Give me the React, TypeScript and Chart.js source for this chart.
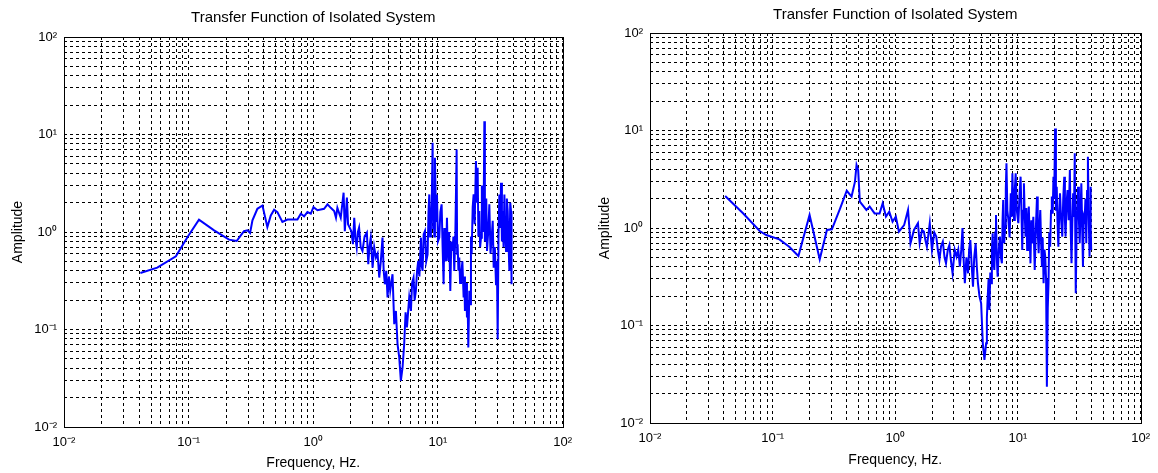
import React, { useEffect, useRef } from 'react';
import { Chart, registerables } from 'chart.js';

Chart.register(...registerables);

// ---------- text ----------
const TITLE = 'Transfer Function of Isolated System';
const X_LABEL = 'Frequency, Hz.';
const Y_LABEL = 'Amplitude';

// ---------- axis ticks ----------
const DECADE_VALUES = [0.01, 0.1, 1, 10, 100];
const DECADE_LABELS = ['10⁻²', '10⁻¹', '10⁰', '10¹', '10²'];
const GRID_STEPS = [1, 2, 3, 4, 5, 6, 7, 8, 9];

// ---------- left plot data (Hz, amplitude) ----------
const freqLeftLow = [
  0.041, 0.056, 0.079, 0.098, 0.121, 0.16, 0.211, 0.243, 0.262, 0.278,
  0.296, 0.311, 0.325, 0.356, 0.391, 0.428, 0.456, 0.485, 0.515, 0.565,
  0.62, 0.746, 0.794, 0.844, 0.897, 0.955, 1.003, 1.08, 1.22, 1.3,
];
const ampLeftLow = [
  0.38, 0.431, 0.563, 0.889, 1.34, 1.04, 0.835, 0.809, 0.924, 1.02,
  1.04, 0.977, 1.32, 1.73, 1.87, 1.125, 1.48, 1.69, 1.6, 1.27,
  1.34, 1.34, 1.54, 1.45, 1.6, 1.54, 1.8, 1.67, 1.73, 1.92,
];
const freqLeftMid = [
  1.38, 1.47, 1.52, 1.56, 1.66, 1.75, 1.79, 1.86, 1.9, 2.02,
  2.08, 2.13, 2.18, 2.23, 2.28, 2.33, 2.4, 2.48, 2.58, 2.69,
  2.76, 2.82, 2.89, 2.99, 3.08, 3.18, 3.28, 3.38, 3.48, 3.59,
  3.67, 3.75, 3.85, 3.94, 4.04, 4.14, 4.32, 4.46, 4.6, 4.74,
  4.89, 5.04, 5.2, 5.36, 5.5, 5.64, 5.88, 6.07, 6.2, 6.37,
  6.5, 6.65, 6.8, 6.95, 7.1,
];
const ampLeftMid = [
  1.77, 1.64, 1.4, 1.77, 1.4, 2.53, 1.02, 2.25, 1.2, 1.02,
  0.75, 1.4, 0.85, 0.691, 1.0, 1.11, 0.7, 0.639, 0.9, 0.984,
  0.467, 0.7, 0.875, 0.431, 0.7, 0.546, 0.6, 0.341, 0.5, 0.875,
  0.4, 0.291, 0.4, 0.213, 0.35, 0.249, 0.369, 0.1135, 0.155, 0.0708,
  0.0517, 0.0298, 0.0408, 0.0708, 0.15, 0.105, 0.213, 0.155, 0.3, 0.341,
  0.2, 0.249, 0.4, 0.505, 0.35,
];
const freqLeftHigh = [
  7.3, 7.41, 7.53, 7.68, 7.86, 8.05, 8.26, 8.4, 8.52, 8.65,
  8.78, 8.92, 9.06, 9.15, 9.23, 9.35, 9.46, 9.65, 9.82, 10.0,
  10.25, 10.45, 10.7, 10.9, 11.1, 11.25, 11.38, 11.6, 11.81, 11.95,
  12.1, 12.3, 12.56, 12.8, 13.11, 13.3, 13.52, 13.8, 14.12, 14.25,
  14.38, 14.6, 14.83, 15.05, 15.3, 15.7, 16.07, 16.25, 16.47, 16.8,
  17.09, 17.3, 17.52, 17.85, 18.17, 18.4, 18.63, 19.0, 19.33, 19.7,
  20.18, 20.5, 20.82, 21.1, 21.47, 21.8, 22.15, 22.5, 22.84, 23.2,
  23.56, 23.8, 24.0, 24.4, 24.75, 25.3, 25.84, 26.4, 26.97, 27.5,
  27.99, 28.6, 29.22, 29.7, 30.14, 30.6, 31.08, 31.6, 32.06, 32.6,
  33.07, 33.6, 34.11, 34.6, 35.16, 35.7, 36.27, 36.8, 37.4, 38.0,
  38.56, 38.8, 39.04,
];
const ampLeftHigh = [
  0.875, 0.45, 0.399, 0.95, 1.02, 0.5, 0.59, 1.6, 2.43, 0.9,
  1.2, 2.0, 8.22, 1.1, 1.64, 0.9, 5.77, 1.3, 2.43, 0.8,
  0.875, 1.6, 1.92, 0.7, 0.291, 1.1, 0.875, 0.5, 1.4, 0.7,
  0.505, 1.0, 0.249, 0.8, 0.639, 0.9, 0.399, 1.0, 7.02, 0.6,
  0.748, 0.4, 0.546, 0.3, 0.341, 0.5, 0.213, 0.35, 0.155, 0.3,
  0.1327, 0.2, 0.0655, 0.25, 0.1817, 0.9, 0.59, 1.8, 2.43, 1.2,
  5.33, 2.0, 4.56, 0.9, 1.64, 0.7, 0.875, 3.0, 2.43, 1.0,
  13.7, 0.8, 1.3, 2.2, 0.639, 1.0, 1.92, 0.6, 0.875, 1.3,
  0.431, 0.7, 0.291, 0.5, 0.0796, 0.9, 2.43, 1.1, 3.2, 0.8,
  1.64, 0.7, 2.43, 1.0, 0.639, 2.2, 1.64, 0.8, 0.399, 2.0,
  1.64, 0.6, 0.291,
];

// ---------- right plot data (Hz, amplitude) ----------
const freqRightLow = [
  0.041, 0.0576, 0.0784, 0.0887, 0.1135, 0.1365, 0.1622, 0.2, 0.242, 0.277,
  0.304, 0.355, 0.402, 0.44, 0.469, 0.483, 0.498, 0.514, 0.581, 0.618,
  0.678, 0.744, 0.789, 0.839, 0.893, 0.95, 1.01, 1.07, 1.18, 1.27,
  1.33, 1.42,
];
const ampRightLow = [
  2.13, 1.41, 0.932, 0.848, 0.765, 0.643, 0.516, 1.36, 0.477, 0.954,
  0.969, 1.59, 2.41, 2.1, 2.99, 4.43, 3.93, 1.86, 1.53, 1.66,
  1.41, 1.41, 1.79, 1.31, 1.47, 1.16, 1.31, 0.917, 1.07, 1.53,
  0.696, 0.954,
];
const freqRightMid = [
  1.53, 1.58, 1.65, 1.71, 1.76, 1.81, 1.91, 1.99, 2.08, 2.16,
  2.22, 2.29, 2.36, 2.44, 2.52, 2.59, 2.68, 2.76, 2.85, 2.93,
  3.05, 3.16, 3.26, 3.36, 3.45, 3.53, 3.6, 3.69, 3.8, 3.92,
  4.0, 4.09, 4.2, 4.3, 4.4, 4.52, 4.62, 4.72, 4.86, 5.01,
  5.17, 5.33,
];
const ampRightMid = [
  1.12, 0.696, 0.95, 0.917, 0.75, 0.643, 1.12, 0.595, 0.9, 0.815,
  0.6, 0.47, 0.65, 0.724, 0.5, 0.434, 0.6, 0.669, 0.45, 0.343,
  0.6, 0.508, 0.6, 0.401, 0.6, 1.0, 0.5, 0.271, 0.5, 0.343,
  0.6, 0.753, 0.4, 0.25, 0.5, 0.696, 0.4, 0.271, 0.198, 0.169,
  0.0656, 0.0443,
];
const freqRightHigh = [
  5.5, 5.58, 5.67, 5.76, 5.85, 5.95, 6.04, 6.13, 6.22, 6.32,
  6.42, 6.52, 6.62, 6.72, 6.83, 6.98, 7.13, 7.26, 7.4, 7.49,
  7.58, 7.72, 7.87, 7.96, 8.06, 8.2, 8.36, 8.55, 8.74, 8.88,
  9.01, 9.15, 9.29, 9.43, 9.58, 9.8, 10.07, 10.3, 10.51, 10.68,
  10.84, 11.0, 11.18, 11.35, 11.53, 11.7, 11.89, 12.07, 12.26, 12.45,
  12.65, 12.85, 13.04, 13.35, 13.7, 14.0, 14.3, 14.5, 14.75, 15.0,
  15.21, 15.45, 15.69, 15.9, 16.18, 16.45, 16.69, 16.95, 17.21, 17.5,
  17.75, 18.0, 18.3, 18.6, 18.88, 19.2, 19.47, 19.75, 20.08, 20.4,
  20.71, 21.0, 21.35, 21.7, 22.02, 22.5, 22.99, 23.4, 23.85, 24.15,
  24.45, 24.9, 25.37, 25.9, 26.5, 26.9, 27.33, 27.75, 28.18, 28.6,
  29.06, 29.3, 29.6, 30.2, 30.9, 31.4, 31.87, 32.4, 32.87, 33.4,
  33.89, 34.4, 34.96, 35.5, 36.06, 36.6, 37.18, 37.8, 38.35, 38.7,
  39.06, 39.3, 39.55,
];
const ampRightHigh = [
  0.0656, 0.12, 0.198, 0.3, 0.144, 0.35, 0.271, 0.6, 0.882, 0.45,
  0.371, 0.9, 1.36, 0.5, 0.317, 0.6, 0.815, 0.5, 0.434, 1.2,
  1.94, 0.7, 1.03, 2.5, 4.61, 1.5, 1.21, 0.8, 2.27, 1.3,
  3.64, 1.8, 1.21, 2.5, 3.64, 1.5, 1.12, 2.2, 3.36, 1.5,
  0.595, 1.5, 2.87, 1.4, 0.815, 1.6, 0.595, 1.1, 1.66, 0.8,
  0.434, 1.2, 0.696, 1.3, 0.371, 1.0, 2.1, 0.9, 0.55, 1.1,
  1.53, 0.7, 0.401, 0.8, 0.271, 0.6, 0.508, 0.3, 0.0236, 0.15,
  0.271, 0.9, 0.643, 1.5, 2.1, 1.4, 3.36, 2.0, 10.5, 1.5,
  2.65, 1.2, 0.643, 1.4, 2.27, 1.2, 0.815, 2.0, 3.36, 1.2,
  0.815, 1.8, 2.45, 1.2, 3.93, 1.0, 0.434, 1.1, 2.27, 1.3,
  5.83, 1.0, 0.214, 1.2, 2.65, 1.2, 0.696, 1.5, 2.87, 1.0,
  0.401, 1.3, 1.21, 2.0, 0.696, 2.4, 5.39, 1.2, 0.508, 1.5,
  2.65, 1.0, 0.595,
];

const freqLeft = [...freqLeftLow, ...freqLeftMid, ...freqLeftHigh];
const ampLeft = [...ampLeftLow, ...ampLeftMid, ...ampLeftHigh];
const freqRight = [...freqRightLow, ...freqRightMid, ...freqRightHigh];
const ampRight = [...ampRightLow, ...ampRightMid, ...ampRightHigh];

// ---------- layout / style ----------
const FONT_FAMILY = "'Liberation Sans', Arial, Helvetica, sans-serif";
const CANVAS_H = 473;
const LINE_COLOR = '#0000ff';

type PanelCfg = {
  left: number;
  width: number;
  padRight: number;
  yAxisW: number;
  xAxisH: number;
  titlePadTop: number;
  titlePadBottom: number;
  yTitlePad: number;
  xTitlePad: number;
};

const LEFT_PANEL: PanelCfg = {
  left: 0, width: 580, padRight: 15, yAxisW: 64, xAxisH: 46,
  titlePadTop: 10, titlePadBottom: 12, yTitlePad: 11, xTitlePad: 3,
};
const RIGHT_PANEL: PanelCfg = {
  left: 580, width: 578, padRight: 8, yAxisW: 70, xAxisH: 50,
  titlePadTop: 7, titlePadBottom: 11, yTitlePad: 18, xTitlePad: 6,
};

const gridTicks: number[] = (() => {
  const out: number[] = [];
  for (let i = 0; i < DECADE_VALUES.length - 1; i++) {
    for (const m of GRID_STEPS) out.push(Number((m * DECADE_VALUES[i]).toPrecision(6)));
  }
  out.push(DECADE_VALUES[DECADE_VALUES.length - 1]);
  return out;
})();

const decadeLabel = (value: number | string) => {
  const v = Number(value);
  const idx = DECADE_VALUES.findIndex((d) => Math.abs(d - v) / d < 1e-6);
  return idx >= 0 ? DECADE_LABELS[idx] : '';
};

const framePlugin = {
  id: 'matlabFrame',
  afterDraw(chart: any) {
    const { ctx, chartArea } = chart;
    const l = Math.round(chartArea.left) + 0.5;
    const t = Math.round(chartArea.top) + 0.5;
    const r = Math.round(chartArea.right) + 0.5;
    const b = Math.round(chartArea.bottom) + 0.5;
    ctx.save();
    ctx.setLineDash([]);
    ctx.strokeStyle = '#000';
    ctx.lineWidth = 1;
    ctx.strokeRect(l, t, r - l, b - t);
    ctx.restore();
  },
};

function axisCommon() {
  return {
    type: 'logarithmic' as const,
    min: DECADE_VALUES[0],
    max: DECADE_VALUES[DECADE_VALUES.length - 1],
    afterBuildTicks: (scale: any) => {
      scale.ticks = gridTicks.map((v) => ({ value: v }));
    },
    grid: { color: '#000', lineWidth: 1, drawTicks: false },
    border: { display: false, dash: [3, 3] },
  };
}

function LogPanel({ cfg, freqs, amps }: { cfg: PanelCfg; freqs: number[]; amps: number[] }) {
  const ref = useRef<HTMLCanvasElement>(null);

  useEffect(() => {
    if (!ref.current) return;
    const chart = new Chart(ref.current, {
      type: 'line',
      data: {
        datasets: [
          {
            data: freqs.map((f, i) => ({ x: f, y: amps[i] })),
            borderColor: LINE_COLOR,
            borderWidth: 2,
            pointRadius: 0,
            tension: 0,
            fill: false,
          },
        ],
      },
      options: {
        responsive: false,
        animation: false,
        devicePixelRatio: 1,
        color: '#000',
        layout: { padding: { left: 0, right: cfg.padRight, top: 0, bottom: 0 } },
        plugins: {
          legend: { display: false },
          tooltip: { enabled: false },
          title: {
            display: true,
            text: TITLE,
            fullSize: false,
            color: '#000',
            font: { family: FONT_FAMILY, size: 15, weight: 'normal', lineHeight: 1 },
            padding: { top: cfg.titlePadTop, bottom: cfg.titlePadBottom },
          },
        },
        scales: {
          x: {
            ...axisCommon(),
            position: 'bottom',
            afterFit: (scale: any) => {
              scale.height = cfg.xAxisH;
            },
            ticks: {
              autoSkip: false,
              maxRotation: 0,
              minRotation: 0,
              padding: 8,
              color: '#000',
              font: { family: FONT_FAMILY, size: 13 },
              callback: (v: any) => decadeLabel(v),
            },
            title: {
              display: true,
              text: X_LABEL,
              color: '#000',
              font: { family: FONT_FAMILY, size: 14, lineHeight: 1 },
              padding: { top: 0, bottom: cfg.xTitlePad },
            },
          },
          y: {
            ...axisCommon(),
            position: 'left',
            afterFit: (scale: any) => {
              scale.width = cfg.yAxisW;
            },
            ticks: {
              autoSkip: false,
              padding: 7,
              color: '#000',
              font: { family: FONT_FAMILY, size: 13 },
              callback: (v: any) => decadeLabel(v),
            },
            title: {
              display: true,
              text: Y_LABEL,
              color: '#000',
              font: { family: FONT_FAMILY, size: 14, lineHeight: 1 },
              padding: { top: cfg.yTitlePad, bottom: 0 },
            },
          },
        },
      } as any,
      plugins: [framePlugin],
    });
    return () => chart.destroy();
  }, [cfg, freqs, amps]);

  return (
    <canvas
      ref={ref}
      width={cfg.width}
      height={CANVAS_H}
      style={{ position: 'absolute', left: cfg.left, top: 0, width: cfg.width, height: CANVAS_H }}
    />
  );
}

export default function App() {
  return (
    <div
      style={{
        position: 'absolute',
        left: 0,
        top: 0,
        width: 1158,
        height: CANVAS_H,
        background: '#fff',
        overflow: 'hidden',
      }}
    >
      <LogPanel cfg={LEFT_PANEL} freqs={freqLeft} amps={ampLeft} />
      <LogPanel cfg={RIGHT_PANEL} freqs={freqRight} amps={ampRight} />
    </div>
  );
}
